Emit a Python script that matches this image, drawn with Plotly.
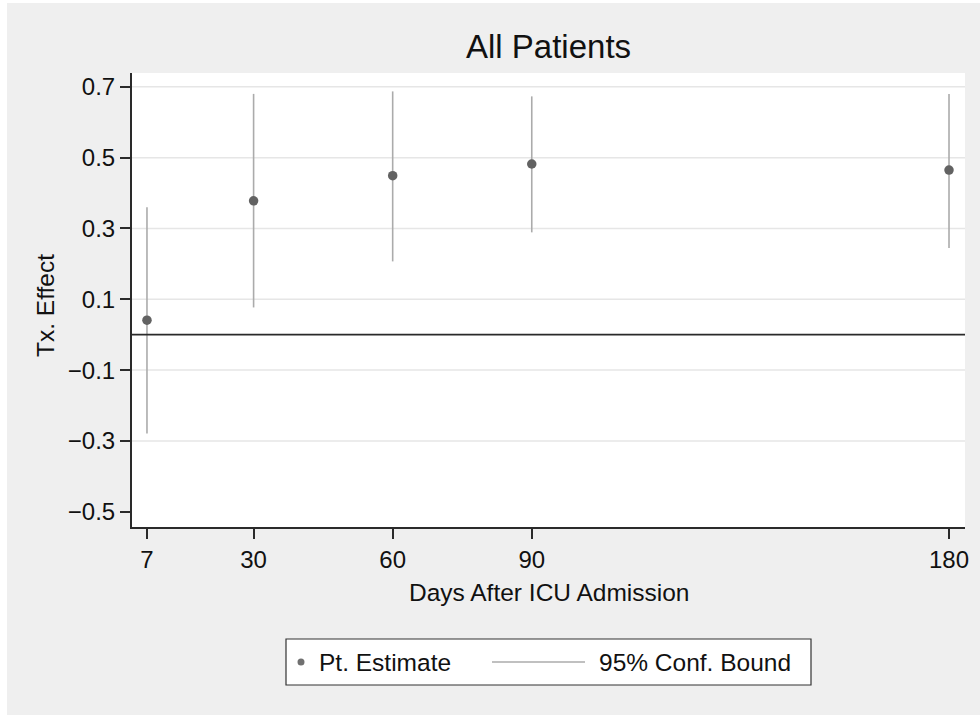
import plotly.graph_objects as go

# ---- data ----
days = [7, 30, 60, 90, 180]
estimate = [0.041, 0.378, 0.449, 0.482, 0.465]
ci_lower = [-0.279, 0.077, 0.207, 0.289, 0.245]
ci_upper = [0.360, 0.680, 0.687, 0.673, 0.680]

x_ticks = [7, 30, 60, 90, 180]
y_ticks = [0.7, 0.5, 0.3, 0.1, -0.1, -0.3, -0.5]
y_ticktext = ["0.7", "0.5", "0.3", "0.1", "\u22120.1", "\u22120.3", "\u22120.5"]
grid_vals = [0.7, 0.5, 0.3, 0.1, -0.1, -0.3]

title_text = "All Patients"
x_title = "Days After ICU Admission"
y_title = "Tx. Effect"
legend_names = ["Pt. Estimate", "95% Conf. Bound"]

# ---- layout geometry (pixels) ----
W, H = 980, 715
L, R, T, B = 132, 965, 73, 527
pw, ph = R - L, B - T


def px(x):
    return (x - L) / pw


def py(y):
    return (B - y) / ph


FONT = "Liberation Sans, Arial, Helvetica, sans-serif"
POINT_COLOR = "#626262"
CI_COLOR = "#ababab"
AXIS_COLOR = "#2a2a2a"
TEXT_COLOR = "#111111"

# CI segments
ci_x, ci_y = [], []
for d, lo, hi in zip(days, ci_lower, ci_upper):
    ci_x += [d, d, None]
    ci_y += [lo, hi, None]

fig = go.Figure()
fig.add_trace(go.Scatter(x=ci_x, y=ci_y, mode="lines", name=legend_names[1],
                         line=dict(color=CI_COLOR, width=1.6), showlegend=False,
                         hoverinfo="skip"))
fig.add_trace(go.Scatter(x=days, y=estimate, mode="markers", name=legend_names[0],
                         marker=dict(color=POINT_COLOR, size=9.5), showlegend=False))

shapes = []
# outer gray background
shapes.append(dict(type="rect", xref="paper", yref="paper", layer="below",
                   x0=px(7), x1=px(W + 5), y0=py(H + 5), y1=py(3),
                   fillcolor="#efefef", line=dict(width=0)))
# plot area white
shapes.append(dict(type="rect", xref="paper", yref="paper", layer="below",
                   x0=0, x1=1, y0=0, y1=1, fillcolor="white", line=dict(width=0)))
# gridlines
for g in grid_vals:
    shapes.append(dict(type="line", xref="paper", yref="y", layer="below",
                       x0=0, x1=1, y0=g, y1=g, line=dict(color="#e6e6e6", width=1.5)))
# zero reference line
shapes.append(dict(type="line", xref="paper", yref="y", x0=0, x1=1, y0=0, y1=0,
                   line=dict(color=AXIS_COLOR, width=1.8)))
# legend box
shapes.append(dict(type="rect", xref="paper", yref="paper",
                   x0=px(286), x1=px(811), y0=py(685), y1=py(639),
                   fillcolor="white", line=dict(color="#333333", width=1.2)))
# legend line sample
shapes.append(dict(type="line", xref="paper", yref="paper",
                   x0=px(492), x1=px(585), y0=py(662), y1=py(662),
                   line=dict(color=CI_COLOR, width=1.6)))
# legend marker sample
shapes.append(dict(type="circle", xref="paper", yref="paper",
                   x0=px(297.5), x1=px(304.5), y0=py(665.5), y1=py(658.5),
                   fillcolor="#707070", line=dict(width=0)))

annotations = [
    dict(text=title_text, xref="paper", yref="paper", x=px(548.5), y=py(46),
         xanchor="center", yanchor="middle", showarrow=False,
         font=dict(family=FONT, size=33, color=TEXT_COLOR)),
    dict(text=x_title, xref="paper", yref="paper", x=px(548.5), y=py(592),
         xanchor="center", yanchor="middle", showarrow=False,
         font=dict(family=FONT, size=24.5, color=TEXT_COLOR)),
    dict(text=y_title, xref="paper", yref="paper", x=px(45), y=py(306),
         xanchor="center", yanchor="middle", showarrow=False, textangle=-90,
         font=dict(family=FONT, size=24.5, color=TEXT_COLOR)),
    dict(text=legend_names[0], xref="paper", yref="paper", x=px(317), y=py(662),
         xanchor="left", yanchor="middle", showarrow=False,
         font=dict(family=FONT, size=24.5, color=TEXT_COLOR)),
    dict(text=legend_names[1], xref="paper", yref="paper", x=px(597), y=py(662),
         xanchor="left", yanchor="middle", showarrow=False,
         font=dict(family=FONT, size=24.5, color=TEXT_COLOR)),
]

fig.update_layout(
    width=W, height=H,
    margin=dict(l=L, r=W - R, t=T, b=H - B, pad=0),
    paper_bgcolor="white", plot_bgcolor="white",
    font=dict(family=FONT, size=23, color=TEXT_COLOR),
    shapes=shapes, annotations=annotations,
    showlegend=False,
    xaxis=dict(range=[3.77, 183.45], tickvals=x_ticks, ticks="outside", ticklen=10,
               tickwidth=1.5, tickcolor=AXIS_COLOR, showgrid=False, zeroline=False,
               showline=True, linecolor=AXIS_COLOR, linewidth=2,
               tickfont=dict(family=FONT, size=24, color=TEXT_COLOR)),
    yaxis=dict(range=[-0.543, 0.739], tickvals=y_ticks, ticktext=y_ticktext,
               ticks="outside", ticklen=10, tickwidth=1.5, tickcolor=AXIS_COLOR,
               showgrid=False, zeroline=False, showline=True, linecolor=AXIS_COLOR,
               linewidth=2, tickfont=dict(family=FONT, size=24, color=TEXT_COLOR)),
)

fig.write_html("out.html", config={"displayModeBar": False},
               post_script="document.body.style.margin='0';document.body.style.padding='0';")
